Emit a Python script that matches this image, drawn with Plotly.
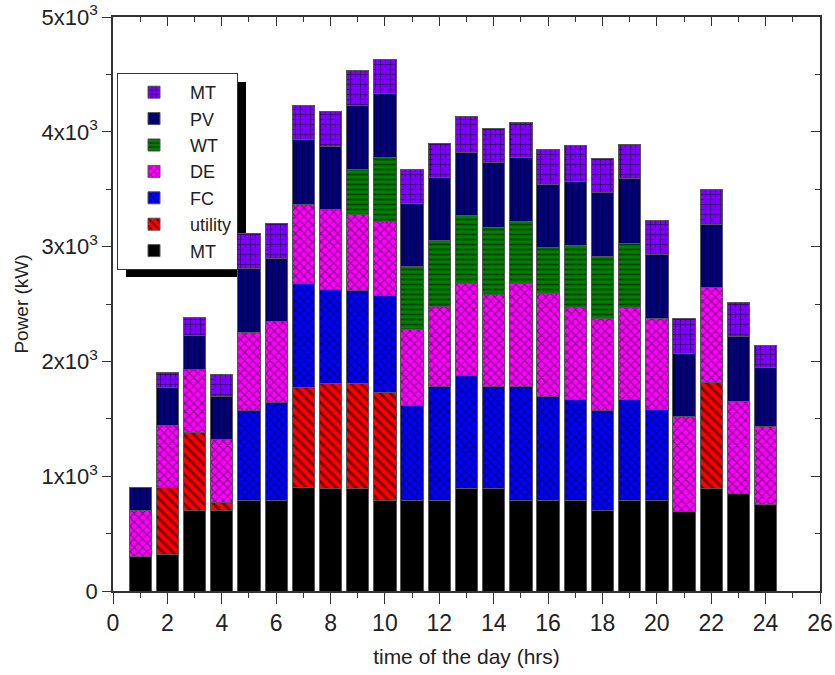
import plotly.graph_objects as go

hours = list(range(1, 25))
mt_base = [300, 320, 700, 700, 790, 790, 900, 890, 890, 790, 790, 790, 890, 890, 790, 790, 790, 700, 790, 790, 690, 890, 850, 750]
utility = [0, 580, 680, 70, 0, 0, 870, 920, 920, 940, 0, 0, 0, 0, 0, 0, 0, 0, 0, 0, 0, 930, 0, 0]
fc = [0, 0, 0, 0, 780, 850, 910, 820, 810, 840, 830, 990, 990, 890, 990, 900, 880, 870, 880, 790, 0, 0, 0, 0]
de = [400, 540, 550, 550, 680, 710, 690, 690, 660, 650, 660, 700, 800, 800, 900, 900, 800, 800, 800, 790, 830, 820, 800, 680]
wt = [0, 0, 0, 0, 0, 0, 0, 0, 390, 560, 545, 570, 590, 590, 540, 400, 540, 540, 560, 0, 0, 0, 0, 0]
pv = [200, 330, 300, 370, 560, 550, 560, 550, 560, 550, 550, 550, 550, 560, 560, 550, 560, 560, 560, 560, 550, 550, 570, 520]
mt_top = [0, 130, 150, 200, 300, 300, 300, 310, 300, 300, 300, 300, 310, 300, 300, 310, 310, 300, 300, 300, 300, 310, 290, 190]

# name, values, colour, pattern shape, pattern size, solidity
series = [
    ("MT", mt_base, "#000000", "", 6, 0.3),
    ("utility", utility, "#FF0000", "\\", 7, 0.4),
    ("FC", fc, "#0000FF", "x", 6, 0.35),
    ("DE", de, "#FF00FF", "x", 6, 0.35),
    ("WT", wt, "#008000", "-", 5, 0.35),
    ("PV", pv, "#000080", "|", 6, 0.3),
    ("MT", mt_top, "#8000FF", "+", 5, 0.35),
]

x_ticks = list(range(0, 27, 2))
y_tickvals = [0, 1000, 2000, 3000, 4000, 5000]
y_ticktext = ["0", "1x10<sup>3</sup>", "2x10<sup>3</sup>", "3x10<sup>3</sup>", "4x10<sup>3</sup>", "5x10<sup>3</sup>"]

fig = go.Figure()
for i, (name, vals, col, shape, psize, psol) in enumerate(series):
    fig.add_trace(go.Bar(
        x=hours, y=vals, name=name, width=0.82,
        legendgroup="g%d" % i,
        marker=dict(
            color=col,
            line=dict(color="#555555", width=1),
            pattern=dict(shape=shape, fillmode="overlay", fgcolor="#000000",
                         size=psize, solidity=psol),
        ),
    ))

axis_col = "#333333"
fig.update_layout(
    width=835, height=675,
    margin=dict(l=113, r=15, t=17, b=84, autoexpand=False),
    paper_bgcolor="white", plot_bgcolor="white",
    barmode="stack",
    font=dict(family="Liberation Sans, Arial, sans-serif", color="#222222"),
    showlegend=True,
    legend=dict(
        x=(117 - 113) / 707, y=(591 - 73) / 574, xanchor="left", yanchor="top",
        traceorder="reversed",
        bgcolor="white", bordercolor="#333333", borderwidth=1,
        font=dict(size=18, color="#222222"),
        itemwidth=62, tracegroupgap=0,
    ),
    xaxis=dict(
        range=[0, 26], tickvals=x_ticks, ticks="outside", ticklen=11,
        tickwidth=1.2, tickcolor=axis_col, automargin=False,
        minor=dict(dtick=1, tick0=0, ticks="outside", ticklen=5, tickcolor=axis_col),
        showline=True, linecolor=axis_col, linewidth=1.5, showgrid=False,
        zeroline=False,
        tickfont=dict(size=23),
        title=dict(text="time of the day (hrs)", font=dict(size=21), standoff=14),
    ),
    yaxis=dict(
        range=[0, 5000], tickvals=y_tickvals, ticktext=y_ticktext,
        ticks="outside", ticklen=9, tickwidth=1.2, tickcolor=axis_col,
        automargin=False,
        minor=dict(dtick=500, tick0=0, ticks="outside", ticklen=5, tickcolor=axis_col),
        showline=True, linecolor=axis_col, linewidth=1.5, showgrid=False,
        zeroline=False,
        tickfont=dict(size=22),
        title=dict(text="Power (kW)", font=dict(size=19), standoff=8),
    ),
    xaxis2=dict(
        range=[0, 26], overlaying="x", side="top", tickvals=x_ticks,
        ticks="inside", ticklen=9, tickcolor=axis_col, showticklabels=False,
        automargin=False,
        minor=dict(dtick=1, tick0=0, ticks="inside", ticklen=5, tickcolor=axis_col),
        showline=True, linecolor=axis_col, linewidth=1.5, showgrid=False, zeroline=False,
    ),
    yaxis2=dict(
        range=[0, 5000], overlaying="y", side="right", tickvals=y_tickvals,
        ticks="inside", ticklen=9, tickcolor=axis_col, showticklabels=False,
        automargin=False,
        minor=dict(dtick=500, tick0=0, ticks="inside", ticklen=5, tickcolor=axis_col),
        showline=True, linecolor=axis_col, linewidth=1.5, showgrid=False, zeroline=False,
    ),
)

# dummy invisible trace to activate the mirrored axes
fig.add_trace(go.Scatter(x=[0], y=[0], xaxis="x2", yaxis="y2", mode="markers",
                         marker=dict(opacity=0), showlegend=False, hoverinfo="skip"))

# legend drop shadow
fig.add_shape(type="rect", xref="paper", yref="paper",
              x0=(126 - 113) / 707, x1=(246 - 113) / 707,
              y0=(591 - 277) / 574, y1=(591 - 82) / 574,
              fillcolor="black", line=dict(width=0), layer="below")

fig.write_html("out.html")
